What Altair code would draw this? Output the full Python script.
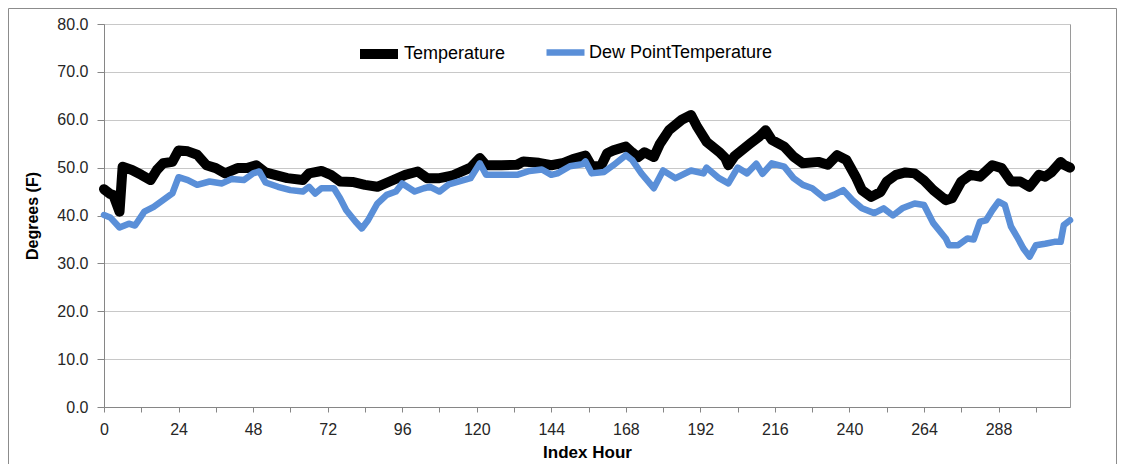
import altair as alt
import pandas as pd

# Temperature (F): hour index and value
temp_hours = [0, 2, 3, 5, 6, 9, 12, 15, 17, 19, 22, 24, 27, 30, 33, 36, 39, 43, 46, 49,
              52, 55, 59, 64, 66, 70, 73, 76, 80, 84, 88, 92, 97, 101, 104, 108, 112, 118, 121, 123,
              128, 133, 135, 140, 144, 148, 151, 155, 157, 160, 162, 164, 168, 170, 172, 174, 177, 179, 182, 186,
              189, 191, 194, 198, 200, 201, 203, 208, 211, 213, 215, 219, 222, 225, 230, 233, 236, 239, 242, 244,
              247, 250, 252, 255, 258, 261, 264, 267, 271, 273, 276, 279, 282, 286, 289, 292, 295, 298, 301, 303,
              305, 308, 309, 311]
temp_values = [45.5, 44.5, 44.3, 40.8, 50.2, 49.5, 48.5, 47.4, 49.5, 50.9, 51.2, 53.6, 53.4, 52.7, 50.5, 49.9, 48.8, 49.9, 49.9, 50.5,
               49.0, 48.5, 47.8, 47.4, 48.8, 49.3, 48.5, 47.1, 47.0, 46.4, 46.0, 47.1, 48.5, 49.2, 47.8, 47.8, 48.3, 50.0, 52.0, 50.5,
               50.5, 50.6, 51.3, 51.0, 50.5, 51.0, 51.8, 52.5, 50.3, 50.3, 53.0, 53.6, 54.4, 53.2, 52.2, 53.2, 52.2, 55.0, 57.9, 60.0,
               61.0, 58.5, 55.4, 53.3, 52.0, 50.5, 52.4, 55.0, 56.5, 57.8, 55.8, 54.4, 52.3, 50.9, 51.2, 50.6, 52.6, 51.6, 48.1, 45.3,
               43.9, 44.9, 47.1, 48.5, 49.0, 48.8, 47.3, 45.3, 43.2, 43.6, 47.1, 48.5, 48.1, 50.5, 49.9, 47.1, 47.1, 46.0, 48.5, 48.1,
               49.0, 51.2, 50.6, 50.0]

# Dew point temperature (F)
dew_hours = [0, 2, 5, 8, 10, 13, 16, 19, 22, 24, 27, 30, 34, 38, 41, 45, 48, 50, 52, 56,
             60, 64, 66, 68, 70, 74, 76, 78, 81, 83, 85, 88, 91, 94, 96, 100, 103, 105, 108, 111,
             118, 121, 123, 133, 137, 141, 144, 146, 150, 154, 155, 157, 161, 164, 168, 170, 173, 177, 180, 184,
             189, 193, 194, 198, 201, 204, 207, 210, 212, 215, 219, 222, 225, 228, 232, 235, 238, 241, 244, 248,
             251, 254, 257, 261, 264, 267, 271, 272, 275, 278, 280, 282, 284, 286, 288, 290, 292, 294, 296, 298,
             300, 303, 306, 308, 309, 311]
dew_values = [40.1, 39.6, 37.5, 38.3, 37.9, 40.8, 41.8, 43.2, 44.6, 48.0, 47.4, 46.4, 47.1, 46.7, 47.6, 47.4, 48.8, 49.2, 46.9, 46.0,
              45.3, 45.0, 46.0, 44.6, 45.7, 45.7, 43.6, 41.1, 38.7, 37.3, 39.0, 42.5, 44.3, 45.0, 46.7, 45.0, 45.7, 46.0, 45.0, 46.5,
              47.8, 50.9, 48.5, 48.5, 49.3, 49.6, 48.5, 48.8, 50.3, 50.7, 51.3, 48.8, 49.1, 50.5, 52.6, 51.6, 48.8, 45.7, 49.4, 47.8,
              49.4, 48.8, 50.0, 47.8, 46.7, 50.0, 48.8, 50.8, 48.7, 50.9, 50.2, 47.8, 46.4, 45.7, 43.6, 44.3, 45.3, 43.2, 41.5, 40.5,
              41.5, 40.0, 41.5, 42.5, 42.2, 38.4, 35.2, 33.8, 33.8, 35.2, 35.0, 38.7, 39.0, 41.1, 42.9, 42.2, 37.7, 35.5, 33.1, 31.4,
              33.8, 34.1, 34.5, 34.5, 38.0, 39.0]

series_names = ["Temperature", "Dew PointTemperature"]
series_colors = ["#000000", "#5A8FD8"]
series_widths = [10, 6.5]
x_ticks = list(range(0, 312, 12))
y_ticks = [0, 10, 20, 30, 40, 50, 60, 70, 80]

df_t = pd.DataFrame({"hour": temp_hours, "value": temp_values, "series": series_names[0]})
df_d = pd.DataFrame({"hour": dew_hours, "value": dew_values, "series": series_names[1]})

FONT = "Liberation Sans"

x_enc = alt.X("hour:Q",
              scale=alt.Scale(domain=[0, 311], nice=False, zero=False),
              axis=alt.Axis(values=x_ticks, title="Index Hour",
                            labelExpr="datum.value % 24 == 0 ? datum.value : ''",
                            grid=False, tickSize=5, labelPadding=9, titlePadding=7,
                            labelFontSize=16, titleFontSize=17, labelFlush=False))
y_enc = alt.Y("value:Q",
              scale=alt.Scale(domain=[0, 80], nice=False),
              axis=alt.Axis(values=y_ticks, format=".1f", title="Degrees (F)",
                            grid=True, tickSize=7, labelPadding=9, titlePadding=16,
                            labelFontSize=16, titleFontSize=16))


def series_layer(df, i, legend_x, legend_y):
    return alt.Chart(df).mark_line(
        strokeCap="round", strokeJoin="round", strokeWidth=series_widths[i]
    ).encode(
        x=x_enc, y=y_enc,
        color=alt.Color("series:N",
                        scale=alt.Scale(domain=[series_names[i]], range=[series_colors[i]]),
                        legend=alt.Legend(title=None, orient="none", legendX=legend_x, legendY=legend_y,
                                          direction="horizontal", symbolType="stroke",
                                          symbolSize=1444, labelOffset=1,
                                          symbolStrokeWidth=series_widths[i],
                                          labelFontSize=18, labelFont=FONT, labelColor="#000000",
                                          labelLimit=0)),
    )


line_t = series_layer(df_t, 0, 251, 6)
line_d = series_layer(df_d, 1, 439, 6)

frame = alt.Chart(pd.DataFrame({"f": [0]})).mark_rect(
    fillOpacity=0, stroke="#8C8C8C", strokeWidth=1).encode(
    x=alt.value(-95.5), x2=alt.value(1012.5), y=alt.value(-15.5), y2=alt.value(470))

chart = alt.layer(line_t, line_d, frame).resolve_scale(
    color="independent"
).properties(
    width=966, height=383,
    autosize=alt.AutoSizeParams(type="none"),
    padding={"left": 96, "top": 16, "right": 47, "bottom": 57},
    background="white",
).configure_view(
    stroke="#9A9A9A", strokeWidth=1
).configure_axis(
    labelFont=FONT, titleFont=FONT, labelColor="#262626", titleColor="#000000",
    titleFontWeight="bold", domainColor="#868686", tickColor="#868686",
    gridColor="#C8C8C8", gridWidth=1.2
)

chart.save("out.html", embed_options={"renderer": "svg", "actions": False})
